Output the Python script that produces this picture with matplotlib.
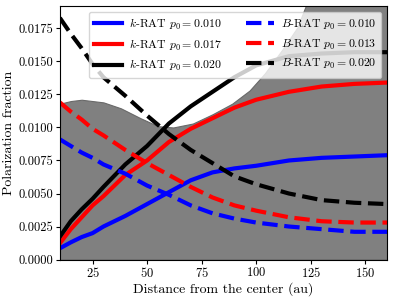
import numpy as np
import matplotlib
matplotlib.use("Agg")
import matplotlib.pyplot as plt
from matplotlib import ticker

plt.rcParams['font.family'] = 'serif'
plt.rcParams['font.serif'] = ['cmr10', 'DejaVu Serif']
plt.rcParams['mathtext.fontset'] = 'cm'
plt.rcParams['axes.formatter.use_mathtext'] = True

# distance from the center (au)
dist = [10, 15, 20, 25, 30, 40, 50, 60, 70, 80, 90, 100, 115, 130, 145, 160]

k_010 = [0.00085, 0.0013, 0.0017, 0.0020, 0.0025, 0.0033, 0.0042, 0.0051, 0.0060, 0.0066,
         0.0069, 0.0071, 0.0075, 0.0077, 0.0078, 0.0079]
k_017 = [0.00123, 0.0023, 0.0032, 0.0041, 0.0048, 0.0064, 0.0075, 0.0089, 0.0099, 0.0107,
         0.0115, 0.0121, 0.0127, 0.0131, 0.0133, 0.0134]
k_020 = [0.00173, 0.0029, 0.0038, 0.0046, 0.0055, 0.0072, 0.0086, 0.0103, 0.0116, 0.0127,
         0.0138, 0.0147, 0.0154, 0.0156, 0.0157, 0.0157]
b_010 = [0.0091, 0.0086, 0.0081, 0.0077, 0.0072, 0.0065, 0.0056, 0.0049, 0.0041, 0.0035,
         0.0031, 0.0028, 0.0025, 0.0023, 0.0021, 0.0021]
b_013 = [0.0119, 0.0112, 0.0106, 0.0099, 0.0094, 0.0083, 0.0073, 0.0064, 0.0055, 0.0047,
         0.0041, 0.0037, 0.0032, 0.0029, 0.0028, 0.0028]
b_020 = [0.0183, 0.0171, 0.0160, 0.0148, 0.0138, 0.0124, 0.0109, 0.0095, 0.0083, 0.0073,
         0.0063, 0.0057, 0.0050, 0.0045, 0.0043, 0.0042]

# upper edge of the shaded region
shade_x = [10, 15, 20, 25, 30, 38, 47, 55, 62, 71, 80, 89, 97, 104, 112, 119, 122, 126, 160]
shade_y = [0.0118, 0.0120, 0.0121, 0.0120, 0.0119, 0.01145, 0.0107, 0.0101, 0.0100, 0.0103,
           0.0110, 0.0118, 0.0128, 0.0141, 0.0159, 0.0176, 0.0189, 0.0205, 0.0205]

fig = plt.figure(figsize=(3.99, 2.99), dpi=100)
ax = fig.add_axes([0.150, 0.132, 0.820, 0.848])

ax.fill_between(shade_x, 0, shade_y, facecolor='gray', edgecolor='dimgray', lw=0.8)

lw = 3
ax.plot(dist, k_010, color='blue', lw=lw, label=r'$k$-RAT $p_0 = 0.010$')
ax.plot(dist, k_017, color='red', lw=lw, label=r'$k$-RAT $p_0 = 0.017$')
ax.plot(dist, k_020, color='black', lw=lw, label=r'$k$-RAT $p_0 = 0.020$')
ax.plot(dist, b_010, color='blue', lw=lw, ls='--', label=r'$B$-RAT $p_0 = 0.010$')
ax.plot(dist, b_013, color='red', lw=lw, ls='--', label=r'$B$-RAT $p_0 = 0.013$')
ax.plot(dist, b_020, color='black', lw=lw, ls='--', label=r'$B$-RAT $p_0 = 0.020$')

ax.set_xlim(10, 160)
ax.set_ylim(0, 0.0192)
ax.xaxis.set_major_locator(ticker.MultipleLocator(25))
ax.yaxis.set_major_locator(ticker.MultipleLocator(0.0025))
ax.yaxis.set_major_formatter(ticker.FormatStrFormatter('%.4f'))
ax.tick_params(labelsize=9, length=3, pad=1.5)
ax.set_xlabel('Distance from the center (au)', fontsize=10, labelpad=2)
ax.set_ylabel('Polarization fraction', fontsize=10, labelpad=3)

ax.legend(ncol=2, loc='upper right', fontsize=8.5, handlelength=2.4, handletextpad=0.6,
          columnspacing=2.0)

fig.savefig('out.png', dpi=100)
